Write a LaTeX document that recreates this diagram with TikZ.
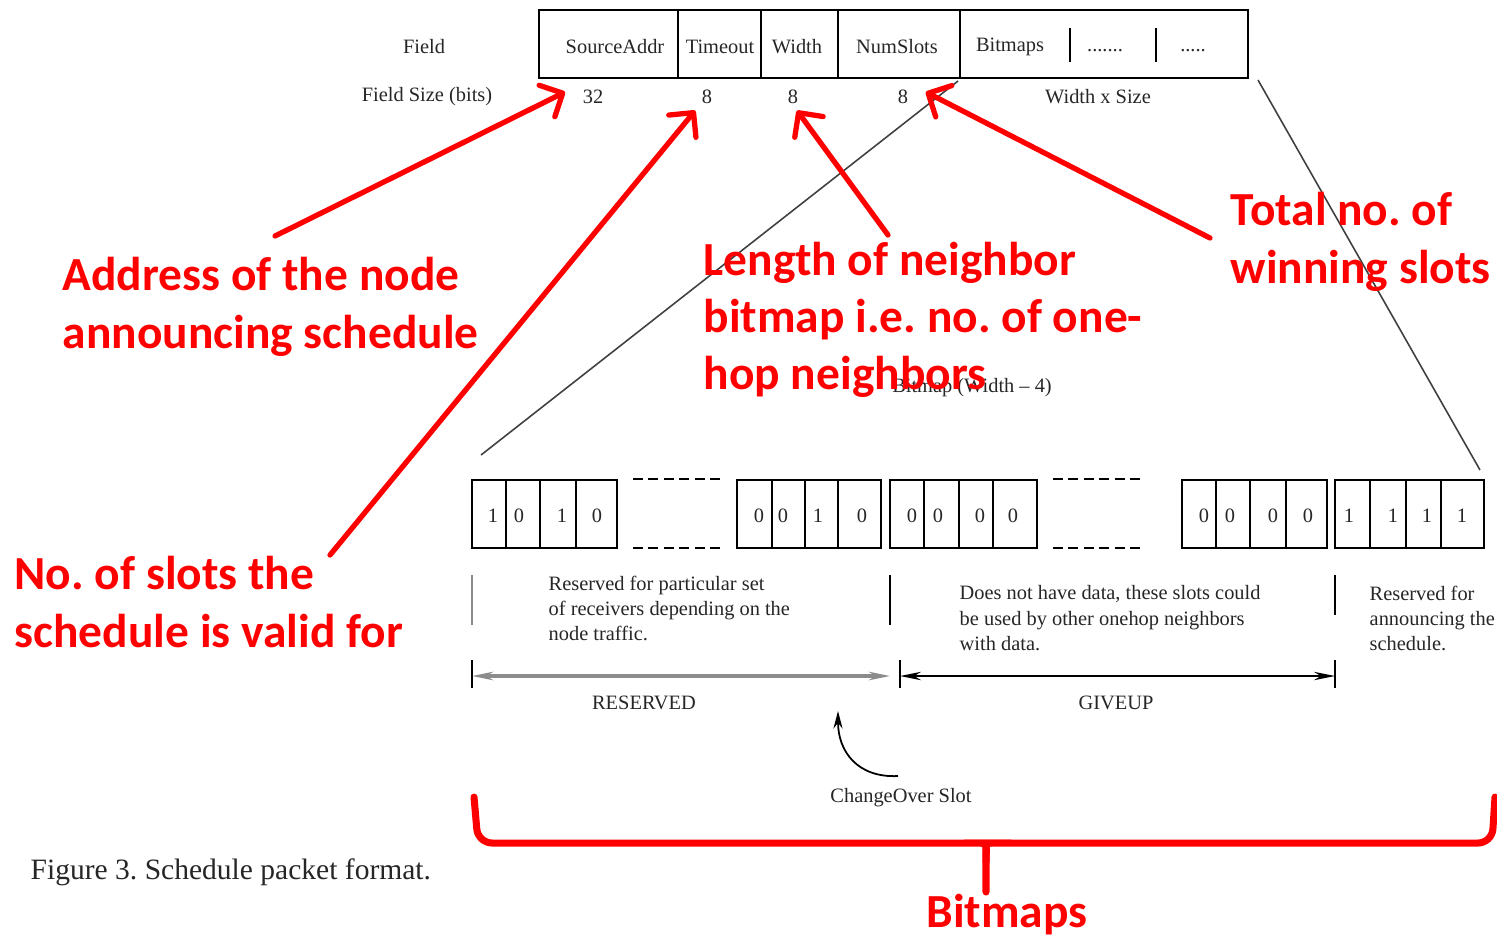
\documentclass[tikz,border=0pt]{standalone}
\usepackage{fontspec}
\setmainfont{Liberation Serif}
\newfontfamily\calib{Carlito}
\usetikzlibrary{arrows.meta,positioning}
\frenchspacing

\tikzset{
  cell/.style={line width=0.6pt},
  small/.style={font=\fontsize{5.8}{7.2}\selectfont, inner sep=0pt, text=black!85},
  bit/.style={small},
  desc/.style={small, align=left, anchor=north west},
  note/.style={font=\calib\bfseries\fontsize{13.5}{16.3}\selectfont, text=red, align=left, anchor=west, inner sep=0pt},
  redarrow/.style={red, line width=1.5pt, line cap=round, -{Straight Barb[length=5pt,width=10pt,round]}},
  zoomline/.style={black!75, line width=0.45pt},
  gapline/.style={line width=0.6pt, dash pattern=on 2.8pt off 1.6pt},
  dimtip/.style={line width=0.5pt, {Stealth[length=6pt,width=2.4pt]}-{Stealth[length=6pt,width=2.4pt]}},
  brace/.style={red, line width=2pt, rounded corners=4pt, line cap=round},
}

\begin{document}
\begin{tikzpicture}[x=0.01cm, y=-0.01cm]
\useasboundingbox (0,0) rectangle (1497,938);

% Packet header
\node[small] (fieldlbl) at (424,47) {Field};
\node[small] (sizelbl) at (427,97) {Field Size (bits)};
\draw[cell] (539,10) rectangle (678,78);
\node[small] (srcaddr) at (615,47) {SourceAddr};
\draw[cell] (678,10) rectangle (761,78);
\node[small] (timeout) at (720,47) {Timeout};
\draw[cell] (761,10) rectangle (838,78);
\node[small] (width) at (797,47) {Width};
\draw[cell] (838,10) rectangle (960,78);
\node[small] (numslots) at (897,47) {NumSlots};
\draw[cell] (960,10) rectangle (1248,78);
\node[small] (bitmaps) at (1010,47) {Bitmaps};
\draw[cell] (1070,28) -- (1070,62);
\node[small] (dotsA) at (1105,51) {.......};
\draw[cell] (1156,28) -- (1156,62);
\node[small] (dotsB) at (1193,51) {.....};

% Field sizes
\node[small] (sz32) at (593,97) {32};
\node[small] (szTO) at (707,97) {8};
\node[small] (szW) at (793,97) {8};
\node[small] (szNS) at (903,97) {8};
\node[small] (szBM) at (1098,97) {Width x Size};

% Zoom into the bitmap
\coordinate (bmcorner) at (958,81);
\coordinate (boxcorner) at (1258,80);
\coordinate (zoomL) at (481,455);
\coordinate (zoomR) at (1480,470);
\draw[zoomline] (bmcorner) -- (zoomL);
\draw[zoomline] (boxcorner) -- (zoomR);
\node[small] (bmtitle) at (972,388) {Bitmap (Width -- 4)};

% Bitmap slots
\draw[cell] (472,480) rectangle (506,548);
\node[bit] (b1) at (493,516) {1};
\draw[cell] (506,480) rectangle (540,548);
\node[bit] (b2) at (519,516) {0};
\draw[cell] (540,480) rectangle (576,548);
\node[bit] (b3) at (562,516) {1};
\draw[cell] (576,480) rectangle (617,548);
\node[bit] (b4) at (597,516) {0};
\draw[gapline] (633,479) -- (725,479);
\draw[gapline] (633,548) -- (725,548);
\draw[cell] (737,480) rectangle (772,548);
\node[bit] (b5) at (759,516) {0};
\draw[cell] (772,480) rectangle (805,548);
\node[bit] (b6) at (783,516) {0};
\draw[cell] (805,480) rectangle (838,548);
\node[bit] (b7) at (818,516) {1};
\draw[cell] (838,480) rectangle (881,548);
\node[bit] (b8) at (862,516) {0};
\draw[cell] (890,480) rectangle (924,548);
\node[bit] (b9) at (912,516) {0};
\draw[cell] (924,480) rectangle (959,548);
\node[bit] (b10) at (938,516) {0};
\draw[cell] (959,480) rectangle (993,548);
\node[bit] (b11) at (980,516) {0};
\draw[cell] (993,480) rectangle (1037,548);
\node[bit] (b12) at (1013,516) {0};
\draw[gapline] (1053,479) -- (1142,479);
\draw[gapline] (1053,548) -- (1142,548);
\draw[cell] (1182,480) rectangle (1216,548);
\node[bit] (b13) at (1204,516) {0};
\draw[cell] (1216,480) rectangle (1250,548);
\node[bit] (b14) at (1230,516) {0};
\draw[cell] (1250,480) rectangle (1286,548);
\node[bit] (b15) at (1273,516) {0};
\draw[cell] (1286,480) rectangle (1327,548);
\node[bit] (b16) at (1308,516) {0};
\draw[cell] (1335,480) rectangle (1370,548);
\node[bit] (b17) at (1349,516) {1};
\draw[cell] (1370,480) rectangle (1406,548);
\node[bit] (b18) at (1393,516) {1};
\draw[cell] (1406,480) rectangle (1441,548);
\node[bit] (b19) at (1427,516) {1};
\draw[cell] (1441,480) rectangle (1484,548);
\node[bit] (b20) at (1462,516) {1};

% Slot descriptions
\draw[black!45, line width=0.6pt] (472,575) -- (472,625);
\draw[cell] (890,575) -- (890,625);
\draw[cell] (1335,575) -- (1335,615);
\node[desc] (resdesc) at (548,575) {Reserved for particular set\\of receivers depending on the\\node traffic.};
\node[desc] (givedesc) at (959,585) {Does not have data, these slots could\\be used by other onehop neighbors\\with data.};
\node[desc] (annodesc) at (1369,585) {Reserved for\\announcing the\\schedule.};

% Ranges
\coordinate (resL) at (472,676);
\coordinate (resR) at (890,676);
\coordinate (giveL) at (900,676);
\coordinate (giveR) at (1335,676);
\draw[cell] (472,660) -- (472,688);
\draw[cell] (900,660) -- (900,688);
\draw[cell] (1335,660) -- (1335,688);
\draw[dimtip, black!45, line width=0.9pt] (resL) -- (resR);
\draw[dimtip] (giveL) -- (giveR);
\node[small] (reslbl) at (644,703) {RESERVED};
\node[small] (givelbl) at (1116,703) {GIVEUP};
\node[small] (chglbl) at (901,798) {ChangeOver Slot};
\coordinate (chgtip) at (838,711);
\draw[line width=0.5pt, -{Stealth[length=5pt,width=2.6pt]}] ([xshift=-0.03cm,yshift=0.12cm]chglbl.north) .. controls (858,778) and (838,752) .. (chgtip);

% Caption
\node[font=\fontsize{8.4}{10}\selectfont, anchor=west, inner sep=0pt, text=black!85] (caption) at (30,872) {Figure 3. Schedule packet format.};

% Red annotations
\node[note] (addrnote) at (62,307) {Address of the node\\announcing schedule};
\node[note] (slotnote) at (14,602) {No. of slots the\\schedule is valid for};
\node[note] (lennote) at (703,320) {Length of neighbor\\bitmap i.e. no. of one-\\hop neighbors};
\node[note] (totnote) at (1230,242) {Total no. of\\winning slots};
\coordinate (addrtail) at (275,236);
\coordinate (slottail) at (330,555);
\coordinate (lentail) at (888,235);
\coordinate (tottail) at (1210,238);
\draw[redarrow] (addrtail) -- ([xshift=-0.17cm,yshift=0.05cm]sz32.west);
\draw[redarrow] (slottail) -- ([xshift=-0.06cm,yshift=-0.06cm]szTO.south west);
\draw[redarrow] (lentail) -- ([xshift=0.04cm,yshift=-0.06cm]szW.south);
\draw[redarrow] (tottail) -- ([xshift=0.17cm,yshift=0.05cm]szNS.east);

% Brace over the bitmaps
\draw[brace] (474,797) -- (478,843) -- (976,843) .. controls (984,843) and (986,850) .. (986,862) -- (986,892);
\draw[brace] (1495,797) -- (1492,843) -- (996,843) .. controls (988,843) and (986,850) .. (986,862);
\node[note, anchor=center] (bmnote) at (1007,915) {Bitmaps};
\end{tikzpicture}
\end{document}
